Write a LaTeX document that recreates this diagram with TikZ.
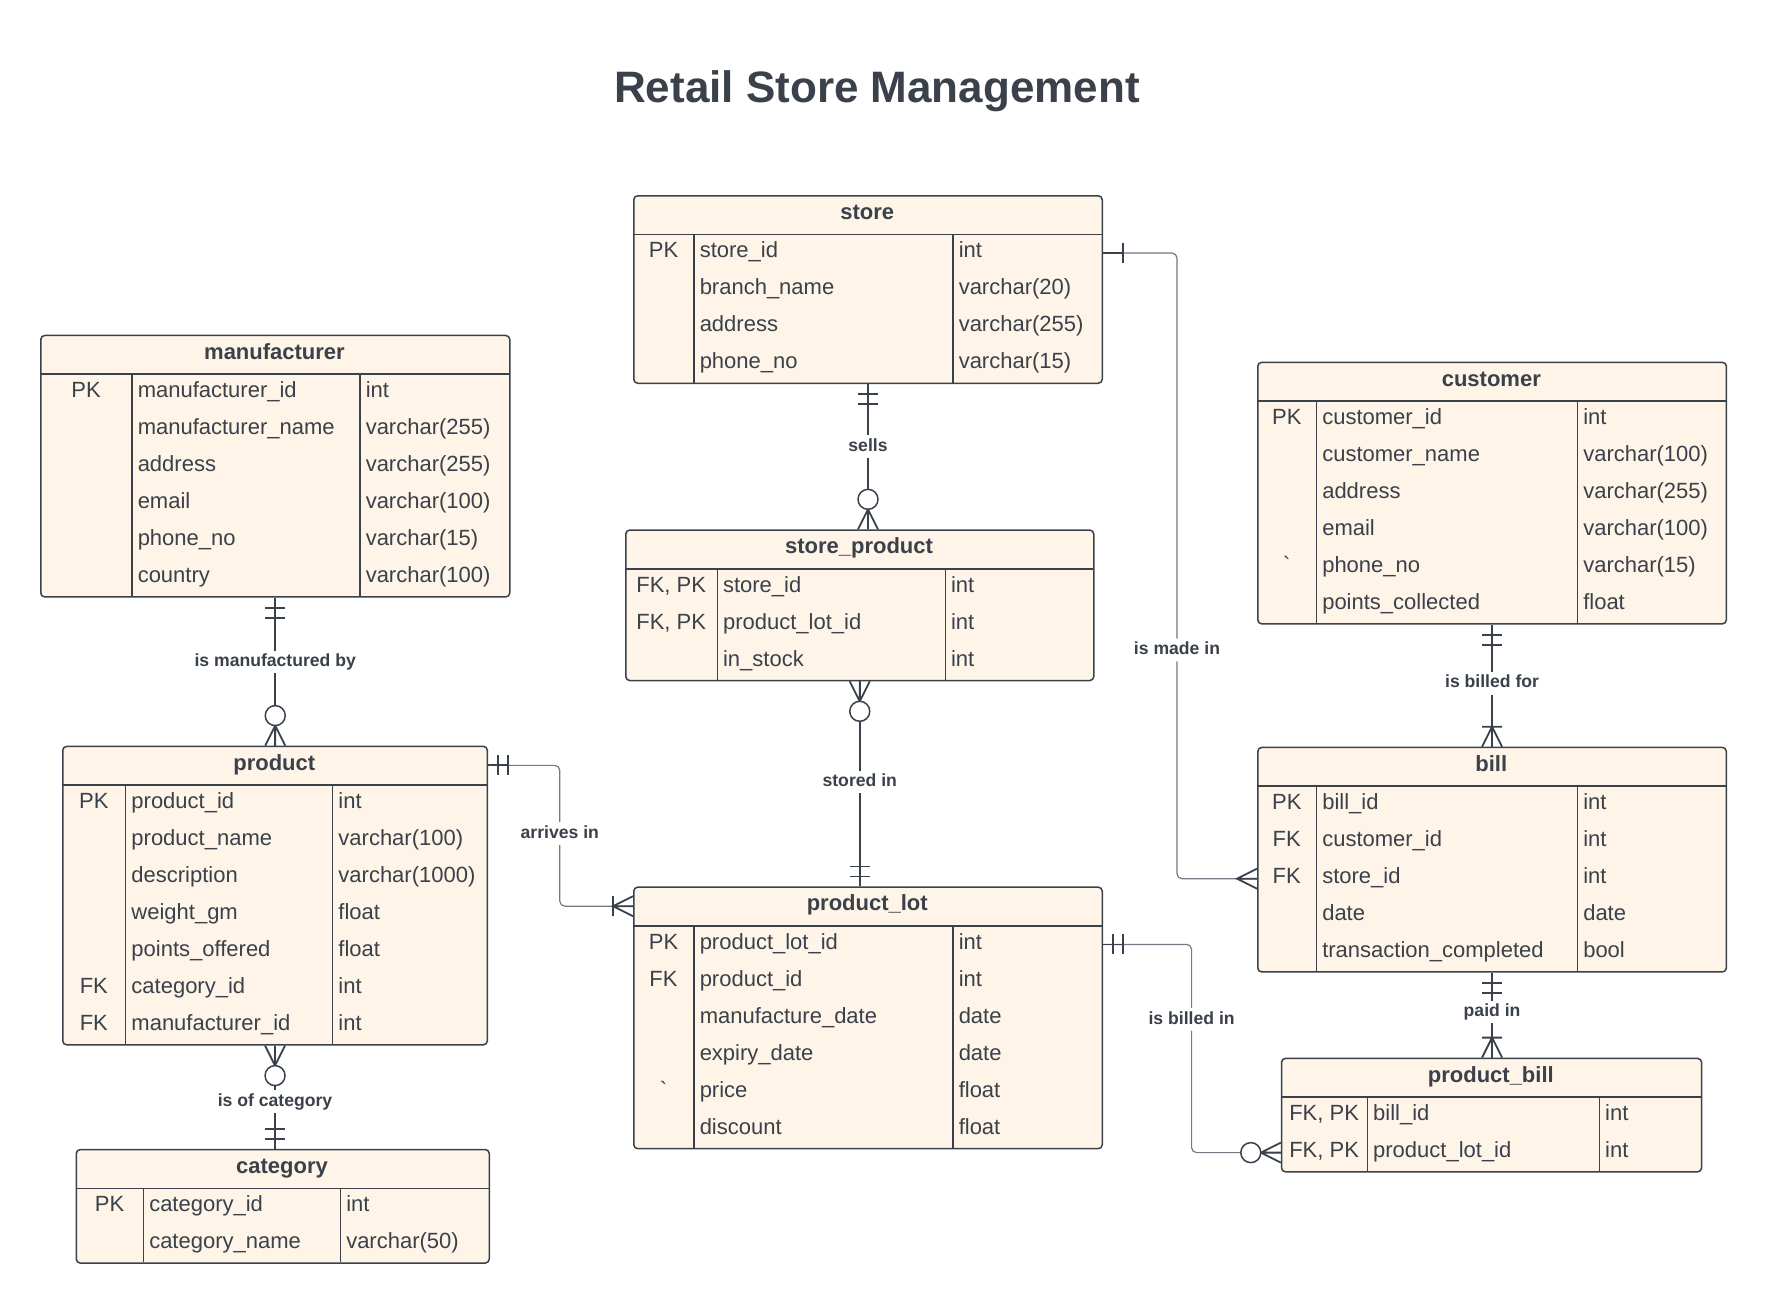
\documentclass[tikz,border=0pt]{standalone}
\usepackage{fontspec}
\setmainfont{Liberation Sans}
\usetikzlibrary{calc}
\definecolor{erink}{HTML}{3A414A}
\definecolor{erline}{HTML}{737A83}
\definecolor{erfill}{HTML}{FEF4E8}

\tikzset{
  entity/.style={draw, fill=erfill, rounded corners=2pt, inner sep=0pt},
  erkey/.style={font=\fontsize{11}{13}\selectfont, inner sep=0pt, text height=8pt, text depth=3.3pt},
  erfield/.style={erkey, anchor=west},
  entityhead/.style={erkey, font=\bfseries\fontsize{11}{13}\selectfont},
  rel/.style={fill=white, font=\bfseries\fontsize{8.8}{10}\selectfont, inner sep=1.5pt, text height=6.5pt, text depth=1.8pt},
  elbow/.style={draw=erline, line width=0.6pt, rounded corners=2.5pt},
  % end marks, drawn along +x away from the table
  onlyone/.pic={\draw[line width=0.9pt] (0,0) -- (20,0) (10,-10) -- (10,10) (20,-10) -- (20,10);},
  justone/.pic={\draw[line width=0.9pt] (0,0) -- (20,0) (20,-10) -- (20,10);},
  many/.pic={\draw[line width=0.9pt] (0,0) -- (20,0) (0,-10) -- (20,0) -- (0,10);},
  onemany/.pic={\draw[line width=0.9pt] (0,0) -- (20,0) (0,-10) -- (20,0) -- (0,10) (20,-10) -- (20,10);},
  zeromany/.pic={\draw[line width=0.9pt] (0,0) -- (20,0) (0,-10) -- (20,0) -- (0,10);
    \draw[fill=white] (30,0) circle[radius=10];},
}

% #1 name, #2 #3 top left, #4 width, #5 key column, #6 field column, #7 rows, #8 title, #9 rows
\newcommand{\erentity}[9]{%
  \node[entity, anchor=north west, minimum width=#4*0.5pt, minimum height={(39.5+37*#7)*0.5pt}] (#1) at (#2,#3) {};
  \node[entityhead] (#1-title) at (#2+#4/2,#3+19.75) {#8};
  \draw (#2,#3+39.5) -- ++(#4,0)
        (#2+#5,#3+39.5) -- ++(0,37*#7)
        (#2+#5+#6,#3+39.5) -- ++(0,37*#7);
  \foreach \keyname/\fieldname/\typename [count=\rownum] in {#9} {
    \node[erkey] (#1-k\rownum) at (#2+#5/2,#3+21+37*\rownum) {\keyname};
    \node[erfield] (#1-f\rownum) at (#2+#5+5,#3+21+37*\rownum) {\fieldname};
    \node[erfield] (#1-t\rownum) at (#2+#5+#6+5,#3+21+37*\rownum) {\typename};
  }%
}

\begin{document}
\begin{tikzpicture}[x=0.5pt, y=-0.5pt, color=erink, line width=0.75pt]
  \path[fill=white, use as bounding box] (0,0) rectangle (1766,1302);
  \node[font=\bfseries\fontsize{22}{26}\selectfont] (title) at (877,91) {Retail Store Management};

  \erentity{manufacturer}{40}{334.7}{469}{92}{228}{6}{manufacturer}
    {PK/manufacturer\_id/int, /manufacturer\_name/varchar(255), /address/varchar(255),
     /email/varchar(100), /phone\_no/varchar(15), /country/varchar(100)}
  \erentity{store}{633}{195}{468.5}{61}{259}{4}{store}
    {PK/store\_id/int, /branch\_name/varchar(20), /address/varchar(255), /phone\_no/varchar(15)}
  \erentity{storeproduct}{625}{529.3}{468}{92.3}{228}{3}{store\_product}
    {{FK, PK}/store\_id/int, {FK, PK}/product\_lot\_id/int, /in\_stock/int}
  \erentity{customer}{1257}{361.6}{468.6}{59.5}{261}{6}{customer}
    {PK/customer\_id/int, /customer\_name/varchar(100), /address/varchar(255),
     /email/varchar(100), \textasciigrave/phone\_no/varchar(15), /points\_collected/float}
  \erentity{bill}{1257}{746.7}{468.6}{59.5}{261}{5}{bill}
    {PK/bill\_id/int, FK/customer\_id/int, FK/store\_id/int, /date/date, /transaction\_completed/bool}
  \erentity{product}{62}{745.6}{424.6}{63.7}{207}{7}{product}
    {PK/product\_id/int, /product\_name/varchar(100), /description/varchar(1000), /weight\_gm/float,
     /points\_offered/float, FK/category\_id/int, FK/manufacturer\_id/int}
  \erentity{productlot}{633}{886.4}{468.5}{61}{259}{6}{product\_lot}
    {PK/product\_lot\_id/int, FK/product\_id/int, /manufacture\_date/date, /expiry\_date/date,
     \textasciigrave/price/float, /discount/float}
  \erentity{category}{75.5}{1148.8}{413}{68}{197}{2}{category}
    {PK/category\_id/int, /category\_name/varchar(50)}
  \erentity{productbill}{1280.8}{1057.6}{420}{86.6}{232}{2}{product\_bill}
    {{FK, PK}/bill\_id/int, {FK, PK}/product\_lot\_id/int}

  \coordinate (arrives) at (559.8,833.5);
  \coordinate (madein) at (1177,650);
  \coordinate (billedin) at (1191.6,1019.3);

  \begin{scope}[line width=0.9pt]
    \draw (store.south) -- node[rel, pos=0.43] (sells) {sells} (store.south |- storeproduct.north);
    \draw (storeproduct.south) -- node[rel, pos=0.49] (storedin) {stored in} (storeproduct.south |- productlot.north);
    \draw (manufacturer.south) -- node[rel, pos=0.435] (madeby) {is manufactured by} (manufacturer.south |- product.north);
    \draw (product.south) -- node[rel, pos=0.54] (ofcat) {is of category} (product.south |- category.north);
    \draw (customer.south) -- node[rel, pos=0.48] (billedfor) {is billed for} (bill.north);
    \draw (bill.south) -- node[rel, pos=0.465] (paidin) {paid in} (bill.south |- productbill.north);
  \end{scope}
  \begin{scope}[text=erink]
    \path[elbow] (product.east |- product-title) -| (arrives) node[rel] (arrivesin) {arrives in} |- (productlot.west |- productlot-title);
    \path[elbow] (store.east |- store-f1) -| (madein) node[rel] (ismadein) {is made in} |- (bill.west |- bill-f3);
    \path[elbow] (productlot.east |- productlot-f1) -| (billedin) node[rel] (isbilledin) {is billed in} |- (productbill.west |- productbill-f2);
  \end{scope}

  \pic[rotate=-90] at (store.south) {onlyone};
  \pic[rotate=90] at (store.south |- storeproduct.north) {zeromany};
  \pic[rotate=-90] at (storeproduct.south) {zeromany};
  \pic[rotate=90] at (storeproduct.south |- productlot.north) {onlyone};
  \pic[rotate=-90] at (manufacturer.south) {onlyone};
  \pic[rotate=90] at (manufacturer.south |- product.north) {zeromany};
  \pic[rotate=-90] at (product.south) {zeromany};
  \pic[rotate=90] at (product.south |- category.north) {onlyone};
  \pic[rotate=-90] at (customer.south) {onlyone};
  \pic[rotate=90] at (bill.north) {onemany};
  \pic[rotate=-90] at (bill.south) {onlyone};
  \pic[rotate=90] at (bill.south |- productbill.north) {onemany};
  \pic at (product.east |- product-title) {onlyone};
  \pic[rotate=180] at (productlot.west |- productlot-title) {onemany};
  \pic at (store.east |- store-f1) {justone};
  \pic[rotate=180] at (bill.west |- bill-f3) {many};
  \pic at (productlot.east |- productlot-f1) {onlyone};
  \pic[rotate=180] at (productbill.west |- productbill-f2) {zeromany};
\end{tikzpicture}
\end{document}
